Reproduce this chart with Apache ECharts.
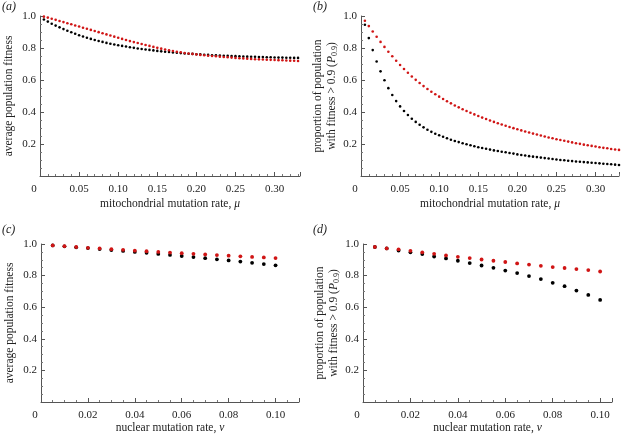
<!DOCTYPE html>
<html><head><meta charset="utf-8">
<script src="https://cdn.jsdelivr.net/npm/echarts@6/dist/echarts.min.js"></script>
<style>html,body{margin:0;padding:0;background:#fff}#c{width:621px;height:439px}</style>
</head><body><div id="c"></div>
<script>
// ---- data ----
const mitoRate = [0.005,0.010,0.015,0.020,0.025,0.030,0.035,0.040,0.045,0.050,0.055,0.060,0.065,0.070,0.075,0.080,0.085,0.090,0.095,0.100,
0.105,0.110,0.115,0.120,0.125,0.130,0.135,0.140,0.145,0.150,0.155,0.160,0.165,0.170,0.175,0.180,0.185,0.190,0.195,0.200,
0.205,0.210,0.215,0.220,0.225,0.230,0.235,0.240,0.245,0.250,0.255,0.260,0.265,0.270,0.275,0.280,0.285,0.290,0.295,0.300,
0.305,0.310,0.315,0.320,0.325,0.330];
const fitMitoBlack = [0.978,0.965,0.952,0.940,0.929,0.918,0.908,0.898,0.889,0.880,0.872,0.864,0.857,0.850,0.844,0.838,0.832,0.827,0.822,0.817,
0.813,0.809,0.805,0.801,0.797,0.794,0.791,0.788,0.785,0.782,0.779,0.777,0.775,0.772,0.770,0.768,0.766,0.764,0.763,0.761,
0.760,0.758,0.757,0.755,0.754,0.753,0.752,0.751,0.750,0.749,0.748,0.747,0.746,0.745,0.745,0.744,0.743,0.742,0.742,0.741,
0.740,0.740,0.739,0.739,0.738,0.738];
const fitMitoRed = [0.996,0.990,0.983,0.976,0.969,0.962,0.955,0.948,0.941,0.934,0.927,0.920,0.913,0.906,0.899,0.892,0.885,0.878,0.871,0.864,
0.857,0.850,0.843,0.837,0.831,0.825,0.819,0.813,0.807,0.801,0.796,0.791,0.786,0.781,0.777,0.773,0.769,0.766,0.763,0.760,
0.757,0.755,0.752,0.750,0.748,0.746,0.744,0.742,0.740,0.738,0.736,0.735,0.733,0.732,0.730,0.729,0.728,0.727,0.726,0.725,
0.724,0.723,0.722,0.721,0.720,0.719];
const propMitoBlack = [0.945,0.862,0.787,0.716,0.654,0.598,0.549,0.506,0.468,0.435,0.406,0.381,0.358,0.338,0.320,0.304,0.289,0.276,0.264,0.255,
0.245,0.236,0.227,0.219,0.212,0.205,0.198,0.192,0.186,0.180,0.175,0.170,0.165,0.160,0.156,0.152,0.148,0.144,0.140,0.135,
0.131,0.128,0.124,0.121,0.118,0.115,0.112,0.109,0.106,0.103,0.100,0.098,0.095,0.093,0.091,0.089,0.087,0.085,0.083,0.081,
0.079,0.077,0.075,0.073,0.071,0.069];
const propMitoRed = [0.970,0.937,0.903,0.870,0.838,0.807,0.777,0.748,0.720,0.694,0.669,0.645,0.622,0.601,0.581,0.562,0.544,0.527,0.511,0.496,
0.481,0.467,0.454,0.441,0.429,0.417,0.406,0.395,0.385,0.375,0.365,0.356,0.347,0.338,0.330,0.322,0.314,0.306,0.299,0.292,
0.285,0.278,0.272,0.265,0.259,0.253,0.247,0.241,0.236,0.230,0.225,0.220,0.215,0.210,0.205,0.201,0.196,0.192,0.188,0.184,
0.180,0.176,0.173,0.169,0.166,0.163];
const nucRate = [0.005,0.010,0.015,0.020,0.025,0.030,0.035,0.040,0.045,0.050,0.055,0.060,0.065,0.070,0.075,0.080,0.085,0.090,0.095,0.100];
const fitNucBlack = [0.991,0.985,0.979,0.974,0.968,0.962,0.956,0.950,0.944,0.937,0.931,0.924,0.917,0.910,0.903,0.896,0.889,0.881,0.873,0.865];
const fitNucRed = [0.991,0.986,0.981,0.976,0.972,0.967,0.963,0.958,0.954,0.950,0.946,0.942,0.938,0.934,0.930,0.926,0.922,0.918,0.915,0.911];
const propNucBlack = [0.981,0.972,0.959,0.947,0.936,0.921,0.909,0.894,0.879,0.864,0.849,0.832,0.816,0.797,0.778,0.754,0.733,0.705,0.678,0.646];
const propNucRed = [0.981,0.972,0.966,0.957,0.947,0.938,0.928,0.919,0.911,0.902,0.894,0.886,0.877,0.870,0.862,0.854,0.848,0.841,0.835,0.826];
const mitoTicks = [0,0.05,0.10,0.15,0.20,0.25,0.30];
const nucTicks = [0,0.02,0.04,0.06,0.08,0.10];
const yTicks = [0.2,0.4,0.6,0.8,1.0];

// ---- chart ----
const FONT = '"Liberation Serif", "DejaVu Serif", serif';
const RED = '#d01515', BLACK = '#000000';
const zip = (xs, ys) => xs.map((x, i) => [x, ys[i]]);

const grids = [
  {left: 40, top: 16, width: 260, height: 160},
  {left: 361, top: 16, width: 258, height: 160},
  {left: 41, top: 244, width: 258, height: 158},
  {left: 363, top: 244, width: 249, height: 158}
];
function xAxis(idx, max, interval, ticks, minorSplit, name, sym, gap) {
  return {
    type: 'value', gridIndex: idx, min: 0, max: max, interval: interval,
    name: name + '{i|' + sym + '}', nameLocation: 'middle', nameGap: gap,
    nameTextStyle: {fontFamily: FONT, fontSize: 11.5, color: '#222',
      rich: {i: {fontFamily: FONT, fontStyle: 'italic', fontSize: 11.5, color: '#222'}}},
    axisLine: {show: true, lineStyle: {color: '#555', width: 1}},
    axisTick: {show: true, inside: true, length: 4, lineStyle: {color: '#555'}},
    minorTick: {show: true, splitNumber: minorSplit, length: 2, lineStyle: {color: '#777'}},
    splitLine: {show: false},
    axisLabel: {
      customValues: ticks, fontFamily: FONT, fontSize: 11, color: '#222', margin: 8,
      formatter: v => v === 0 ? '{z|0}' : v.toFixed(2),
      rich: {z: {fontFamily: FONT, fontSize: 11, color: '#222', padding: [0, 12, 0, 0]}}
    }
  };
}
function yAxis(idx, nameText, gap) {
  return {
    type: 'value', gridIndex: idx, min: 0, max: 1, interval: 0.2,
    name: nameText, nameLocation: 'middle', nameGap: gap, nameRotate: 90,
    nameTextStyle: {fontFamily: FONT, fontSize: 11.5, color: '#222', lineHeight: 14,
      rich: {
        t: {fontFamily: FONT, fontSize: 11.5, color: '#222', lineHeight: 14},
        p: {fontFamily: FONT, fontSize: 11.5, fontStyle: 'italic', color: '#222', lineHeight: 14},
        s: {fontFamily: FONT, fontSize: 8, color: '#222', verticalAlign: 'bottom', padding: [5, 0, 0, 0]}
      }},
    axisLine: {show: true, lineStyle: {color: '#555', width: 1}},
    axisTick: {show: true, inside: true, length: 4, lineStyle: {color: '#555'}},
    minorTick: {show: true, splitNumber: 4, length: 2, lineStyle: {color: '#777'}},
    splitLine: {show: false},
    axisLabel: {
      customValues: yTicks, fontFamily: FONT, fontSize: 11, color: '#222', margin: 4,
      formatter: v => v.toFixed(1)
    }
  };
}
function sc(idx, data, color, size) {
  return {type: 'scatter', xAxisIndex: idx, yAxisIndex: idx, data: data,
    symbol: 'circle', symbolSize: size, itemStyle: {color: color, opacity: 1},
    emphasis: {disabled: true}, silent: true, animation: false};
}
const propName = '{t|proportion of population}\n{t|with fitness > 0.9 (}{p|P}{s|0.9}{t|)}';
const panelLabel = (t, x, y) => ({type: 'text', left: x, top: y,
  style: {text: t, font: 'italic 12px ' + FONT, fill: '#222'}});

const option = {
  animation: false,
  grid: grids,
  xAxis: [
    xAxis(0, 0.3325, 0.05, mitoTicks, 5, 'mitochondrial mutation rate, ', 'μ', 22),
    xAxis(1, 0.33, 0.05, mitoTicks, 5, 'mitochondrial mutation rate, ', 'μ', 22),
    xAxis(2, 0.11, 0.02, nucTicks, 4, 'nuclear mutation rate, ', 'ν', 17),
    xAxis(3, 0.105, 0.02, nucTicks, 4, 'nuclear mutation rate, ', 'ν', 17)
  ],
  yAxis: [
    yAxis(0, 'average population fitness', 24),
    yAxis(1, propName, 22),
    yAxis(2, 'average population fitness', 24),
    yAxis(3, propName, 22)
  ],
  series: [
    sc(0, zip(mitoRate, fitMitoBlack), BLACK, 2.6),
    sc(0, zip(mitoRate, fitMitoRed), RED, 2.6),
    sc(1, zip(mitoRate, propMitoBlack), BLACK, 2.6),
    sc(1, zip(mitoRate, propMitoRed), RED, 2.6),
    sc(2, zip(nucRate, fitNucBlack), BLACK, 3.8),
    sc(2, zip(nucRate, fitNucRed), RED, 3.8),
    sc(3, zip(nucRate, propNucBlack), BLACK, 3.8),
    sc(3, zip(nucRate, propNucRed), RED, 3.8)
  ],
  graphic: [
    panelLabel('(a)', 2, 1),
    panelLabel('(b)', 313, 1),
    panelLabel('(c)', 2, 224),
    panelLabel('(d)', 313, 224)
  ]
};
const chart = echarts.init(document.getElementById('c'), null, {renderer: 'canvas'});
chart.setOption(option);
</script>
</body></html>
